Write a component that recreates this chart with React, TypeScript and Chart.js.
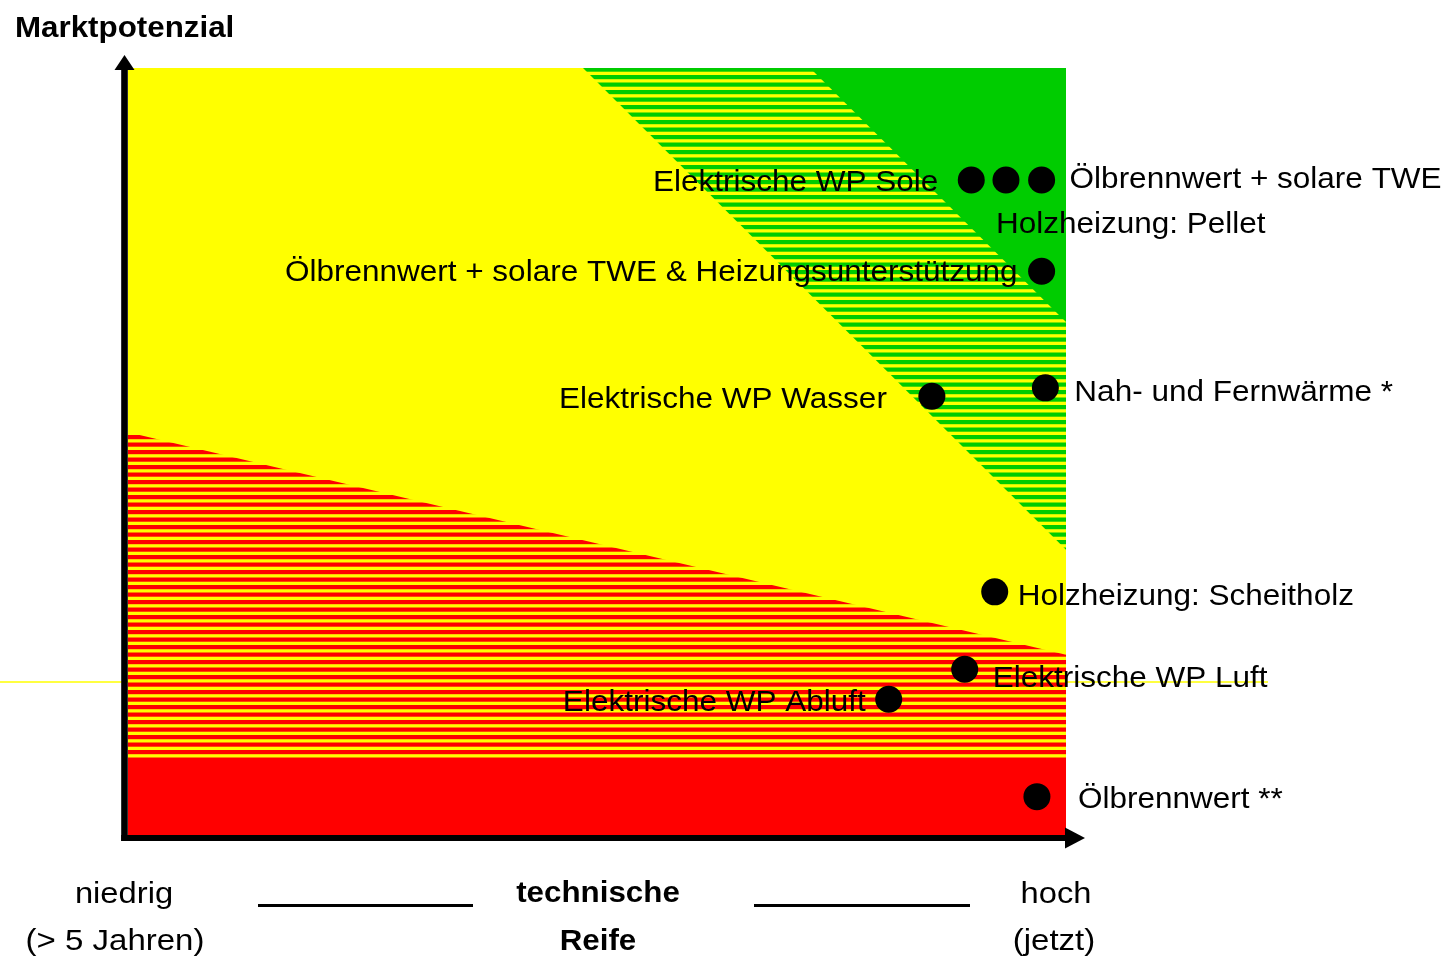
import React, { useEffect, useRef } from "react";
import { Chart, registerables } from "chart.js";

Chart.register(...registerables);

// ---- data (x: technische Reife 0..100, y: Marktpotenzial 0..100) ----
const dotX = [89.9, 93.6, 97.4, 97.4, 85.7, 97.8, 92.4, 89.2, 81.1, 96.9];
const dotY = [85.4, 85.4, 85.4, 73.5, 57.2, 58.3, 31.7, 21.6, 17.7, 5.0];

const labelTexts = [
  "Elektrische WP Sole",
  "Ölbrennwert + solare TWE",
  "Holzheizung: Pellet",
  "Ölbrennwert + solare TWE & Heizungsunterstützung",
  "Elektrische WP Wasser",
  "Nah- und Fernwärme *",
  "Holzheizung: Scheitholz",
  "Elektrische WP Luft",
  "Elektrische WP Abluft",
  "Ölbrennwert **",
];
const labelDot = [0, 2, 1, 3, 4, 5, 6, 7, 8, 9];

// zone boundaries
const bgX = [0, 100];
const bgY = [100, 100];
const greenBandX = [48.5, 100];
const greenBandY = [100, 37.2];
const greenSolidX = [72.7, 100];
const greenSolidY = [100, 66.9];
const redBandX = [0, 100];
const redBandY = [52.5, 23.5];
const redSolidX = [0, 100];
const redSolidY = [9.8, 9.8];

const titleText = "Marktpotenzial";
const axisLeftTexts = ["niedrig", "(> 5 Jahren)"];
const axisMidTexts = ["technische", "Reife"];
const axisRightTexts = ["hoch", "(jetzt)"];

// ---- layout / style ----
const labelLayout = [
  { dx: -33, dy: 0, align: "right" },
  { dx: 28, dy: -3, align: "left" },
  { dx: -10, dy: 42, align: "left" },
  { dx: -24, dy: -1, align: "right" },
  { dx: -45, dy: 1, align: "right" },
  { dx: 29, dy: 2, align: "left" },
  { dx: 23, dy: 2, align: "left" },
  { dx: 28, dy: 7, align: "left" },
  { dx: -23, dy: 1, align: "right" },
  { dx: 41, dy: 1, align: "left" },
];

const YELLOW = "#FFFF00";
const GREEN = "#00CC00";
const RED = "#FF0000";
const FONT = "'Liberation Sans', Arial, sans-serif";

function pts(xs: number[], ys: number[]) {
  return xs.map((x, i) => ({ x, y: ys[i] }));
}

function stripes(base: string, stripe: string) {
  const cv = document.createElement("canvas");
  cv.width = 8;
  cv.height = 15;
  const c = cv.getContext("2d")!;
  c.fillStyle = base;
  c.fillRect(0, 0, 8, 15);
  c.fillStyle = stripe;
  c.fillRect(0, 0, 8, 4.2);
  c.fillRect(0, 7.5, 8, 4.2);
  return c.createPattern(cv, "repeat")!;
}

function drawText(
  ctx: CanvasRenderingContext2D,
  text: string,
  x: number,
  y: number,
  font: string,
  align: "left" | "right" | "center",
  sx = 1
) {
  ctx.save();
  ctx.font = font;
  ctx.fillStyle = "#000";
  ctx.textBaseline = "alphabetic";
  ctx.textAlign = align;
  ctx.translate(x, y);
  ctx.scale(sx, 1);
  ctx.fillText(text, 0, 0);
  ctx.restore();
}

const decorPlugin = {
  id: "decor",
  beforeDatasetsDraw(chart: any) {
    const ctx = chart.ctx as CanvasRenderingContext2D;
    ctx.save();
    ctx.strokeStyle = YELLOW;
    ctx.lineWidth = 1.5;
    ctx.beginPath();
    ctx.moveTo(0, 682);
    ctx.lineTo(1268, 682);
    ctx.stroke();
    ctx.restore();
  },
  afterDatasetsDraw(chart: any) {
    const ctx = chart.ctx as CanvasRenderingContext2D;
    const ca = chart.chartArea;
    ctx.save();
    ctx.fillStyle = "#000";
    const ax = ca.left - 3.5;
    const ay = ca.bottom + 3;
    // y axis
    ctx.fillRect(ax - 3.3, ca.top + 1, 6.6, ay + 3 - ca.top - 1);
    ctx.beginPath();
    ctx.moveTo(ax, ca.top - 13);
    ctx.lineTo(ax - 10, ca.top + 2);
    ctx.lineTo(ax + 10, ca.top + 2);
    ctx.closePath();
    ctx.fill();
    // x axis
    ctx.fillRect(ax - 3.3, ay - 3, ca.right - ax + 3.3, 6);
    ctx.beginPath();
    ctx.moveTo(ca.right + 19, ay);
    ctx.lineTo(ca.right - 1, ay - 10.5);
    ctx.lineTo(ca.right - 1, ay + 10.5);
    ctx.closePath();
    ctx.fill();
    // bottom rule lines
    ctx.fillRect(258, 904, 215, 3);
    ctx.fillRect(754, 904, 216, 3);
    ctx.restore();
  },
  afterDraw(chart: any) {
    const ctx = chart.ctx as CanvasRenderingContext2D;
    const xs = chart.scales.x;
    const ys = chart.scales.y;
    const lf = `30px ${FONT}`;
    labelTexts.forEach((t, i) => {
      const d = labelDot[i];
      const px = xs.getPixelForValue(dotX[d]);
      const py = ys.getPixelForValue(dotY[d]);
      const L = labelLayout[i];
      drawText(ctx, t, px + L.dx, py + L.dy + 10.8, lf, L.align as any, 1.05);
    });
    drawText(ctx, titleText, 15, 37, `bold 29px ${FONT}`, "left", 1.08);
    const bf = `30px ${FONT}`;
    const bb = `bold 29px ${FONT}`;
    drawText(ctx, axisLeftTexts[0], 124, 903, bf, "center", 1.09);
    drawText(ctx, axisLeftTexts[1], 115, 950, bf, "center", 1.1);
    drawText(ctx, axisMidTexts[0], 598, 902, bb, "center", 1.08);
    drawText(ctx, axisMidTexts[1], 598, 950, bb, "center", 1.08);
    drawText(ctx, axisRightTexts[0], 1056, 903, bf, "center", 1.09);
    drawText(ctx, axisRightTexts[1], 1054, 950, bf, "center", 1.1);
  },
};

export default function App() {
  const ref = useRef<HTMLCanvasElement | null>(null);
  useEffect(() => {
    const canvas = ref.current!;
    const area = (xs: number[], ys: number[], color: any, fill: any, order: number) => ({
      type: "line" as const,
      data: pts(xs, ys),
      backgroundColor: color,
      borderWidth: 0,
      borderColor: "rgba(0,0,0,0)",
      pointRadius: 0,
      tension: 0,
      fill,
      order,
    });
    const chart = new Chart(canvas, {
      type: "line",
      data: {
        datasets: [
          {
            type: "line",
            data: pts(dotX, dotY),
            showLine: false,
            pointRadius: 13.5,
            pointHoverRadius: 13.5,
            pointBackgroundColor: "#000",
            pointBorderWidth: 0,
            borderColor: "#000",
            order: 1,
          } as any,
          area(redSolidX, redSolidY, RED, "start", 6),
          area(redBandX, redBandY, stripes(YELLOW, RED), "start", 7),
          area(greenSolidX, greenSolidY, GREEN, "end", 8),
          area(greenBandX, greenBandY, stripes(YELLOW, GREEN), "end", 9),
          area(bgX, bgY, YELLOW, "start", 10),
        ],
      },
      options: {
        animation: false,
        responsive: false,
        events: [],
        layout: { padding: { left: 128, top: 68, right: 379, bottom: 124 } },
        plugins: { legend: { display: false }, tooltip: { enabled: false } },
        scales: {
          x: { type: "linear", min: 0, max: 100, display: false },
          y: { type: "linear", min: 0, max: 100, display: false },
        },
      } as any,
      plugins: [decorPlugin],
    });
    return () => chart.destroy();
  }, []);
  return (
    <div style={{ position: "absolute", left: 0, top: 0, width: 1445, height: 959, background: "#fff" }}>
      <canvas ref={ref} width={1445} height={959} style={{ display: "block" }} />
    </div>
  );
}
